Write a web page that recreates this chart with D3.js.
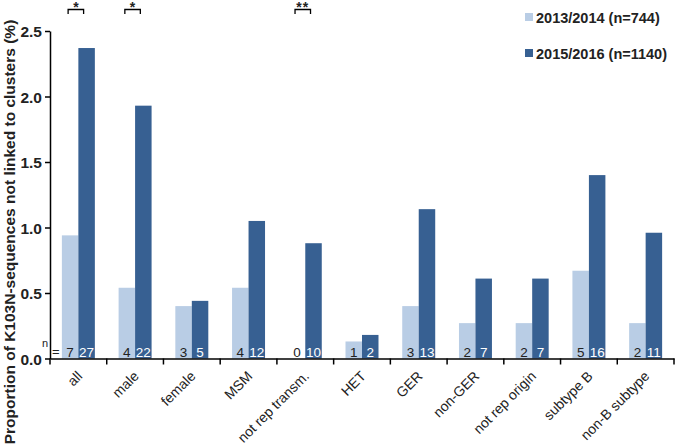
<!DOCTYPE html>
<html><head><meta charset="utf-8">
<script src="https://cdn.jsdelivr.net/npm/d3@7"></script>
<style>body{margin:0;background:#fff}svg{display:block}</style>
</head><body>
<svg id="c" width="676" height="445"></svg>
<script>
const categories = ["all","male","female","MSM","not rep transm.","HET","GER","non-GER","not rep origin","subtype B","non-B subtype"];
const series = ["2013/2014 (n=744)","2015/2016 (n=1140)"];
const values2013 = [0.94,0.54,0.40,0.54,0,0.13,0.40,0.27,0.27,0.67,0.27];
const values2015 = [2.37,1.93,0.44,1.05,0.88,0.18,1.14,0.61,0.61,1.40,0.96];
const counts2013 = [7,4,3,4,0,1,3,2,2,5,2];
const counts2015 = [27,22,5,12,10,2,13,7,7,16,11];
const yTicks = [0,0.5,1.0,1.5,2.0,2.5];
const signif = [{cat:"all",label:"*"},{cat:"male",label:"*"},{cat:"not rep transm.",label:"**"}];
const colors = ["#b9cde5","#376092"];

const svg = d3.select("#c");
const x = d3.scaleBand().domain(categories).range([50,674]).paddingInner(0).paddingOuter(0);
const x1 = d3.scaleBand().domain([0,1]).range([0,x.bandwidth()]).paddingOuter(0.72).paddingInner(0);
const y = d3.scaleLinear().domain([0,2.5]).range([358.5,31]);

const rows = categories.map((c,i)=>({c,v:[values2013[i],values2015[i]],n:[counts2013[i],counts2015[i]]}));

// bars
const g = svg.append("g");
rows.forEach(r=>{
  [0,1].forEach(k=>{
    g.append("rect").attr("x",x(r.c)+x1(k)).attr("width",x1.bandwidth())
      .attr("y",y(r.v[k])).attr("height",y(0)-y(r.v[k])).attr("fill",colors[k]);
    g.append("text").attr("x",x(r.c)+x1(k)+x1.bandwidth()/2).attr("y",356.5)
      .attr("text-anchor","middle").attr("font-family","Liberation Sans, Arial, sans-serif")
      .attr("font-size",13.5).attr("fill",k===0?"#222":"#fff").text(r.n[k]);
  });
});

// y axis
const ya = svg.append("g").attr("transform","translate(50,0)")
  .call(d3.axisLeft(y).tickValues(yTicks).tickFormat(d3.format(".1f")).tickSize(5).tickSizeOuter(0));
ya.select(".domain").attr("stroke","#000").attr("stroke-width",1.5);
ya.selectAll(".tick line").attr("stroke","#000").attr("stroke-width",1.5);
ya.selectAll(".tick text").attr("font-family","Arial, Liberation Sans, sans-serif").attr("font-weight","bold")
  .attr("font-size",15.5).attr("fill","#222").attr("x",-8).attr("dy","0.36em");

// x axis
const xa = svg.append("g").attr("transform",`translate(0,${y(0)})`)
  .call(d3.axisBottom(x).tickSize(0).tickSizeOuter(0));
xa.select(".domain").attr("stroke","#000").attr("stroke-width",1.5);
xa.selectAll(".tick text").remove();
const bounds = categories.map(c=>x(c)).concat([x.range()[1]]);
xa.selectAll("line.bt").data(bounds).enter().append("line").attr("class","bt")
  .attr("x1",d=>d).attr("x2",d=>d).attr("y1",0).attr("y2",6).attr("stroke","#000").attr("stroke-width",1.5);
xa.selectAll("text.xl").data(categories).enter().append("text").attr("class","xl")
  .attr("transform",d=>`translate(${x(d)+x.bandwidth()/2-2.2},11.6) rotate(-45)`)
  .attr("text-anchor","end").attr("dy","0.7em")
  .attr("font-family","Arial, Liberation Sans, sans-serif").attr("font-size",14).attr("fill","#222").text(d=>d);

// n = label
svg.append("text").attr("x",42).attr("y",347).attr("font-family","Liberation Sans, Arial, sans-serif")
  .attr("font-size",11).attr("fill","#222").text("n");
svg.append("text").attr("x",52).attr("y",356).attr("font-family","Liberation Sans, Arial, sans-serif")
  .attr("font-size",13).attr("fill","#222").text("=");

// y title
svg.append("text").attr("transform","translate(15,232) rotate(-90)").attr("text-anchor","middle")
  .attr("font-family","Arial, Liberation Sans, sans-serif").attr("font-weight","bold").attr("font-size",15.5)
  .attr("fill","#222").text("Proportion of K103N-sequences not linked to clusters (%)");

// significance
signif.forEach(s=>{
  const x0 = x(s.cat)+x1(0)+x1.bandwidth()/2-2, xb = x(s.cat)+x1(1)+x1.bandwidth()/2-3;
  svg.append("path").attr("d",`M${x0},14V9.5H${xb}V14`).attr("fill","none").attr("stroke","#000").attr("stroke-width",1.3);
  svg.append("text").attr("x",(x0+xb)/2).attr("y",12).attr("text-anchor","middle")
    .attr("font-family","Arial, Liberation Sans, sans-serif").attr("font-weight","bold").attr("font-size",14)
    .attr("letter-spacing", s.label.length>1?"1px":"0").attr("fill","#222").text(s.label);
});

// legend
series.forEach((s,i)=>{
  const ly = 18 + i*36;
  svg.append("rect").attr("x",525).attr("y",ly-5).attr("width",8).attr("height",8).attr("fill",colors[i]);
  svg.append("text").attr("x",536).attr("y",ly+5).attr("font-family","Arial, Liberation Sans, sans-serif")
    .attr("font-weight","bold").attr("font-size",14.5).attr("fill","#222").text(s);
});
</script>
</body></html>
